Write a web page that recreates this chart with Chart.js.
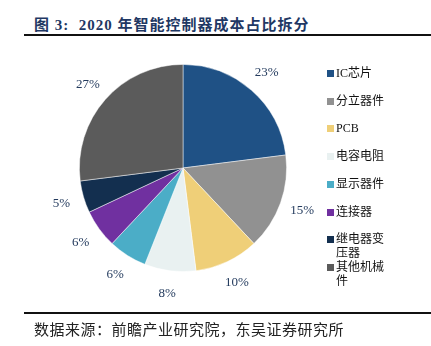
<!DOCTYPE html>
<html>
<head>
<meta charset="utf-8">
<script src="https://cdn.jsdelivr.net/npm/chart.js@4"></script>
<style>
  body { margin: 0; width: 431px; height: 346px; background: #fff; position: relative; overflow: hidden;
         font-family: "Liberation Serif", "Noto Sans CJK SC", serif; }
  #title { position: absolute; left: 34px; top: 13px; font-size: 15px; font-weight: bold; color: #1f3864; white-space: nowrap; letter-spacing: 1px; }
  #topline { position: absolute; left: 24px; top: 34px; width: 407px; height: 2px; background: #111; }
  #bottomline { position: absolute; left: 24px; top: 312px; width: 407px; height: 2px; background: #111; }
  #source { position: absolute; left: 34px; top: 318px; font-size: 15px; color: #222; white-space: nowrap; letter-spacing: 0.5px; }
  #chartBox { position: absolute; left: 33px; top: 18px; width: 300px; height: 300px; }
  .leg { position: absolute; left: 327px; width: 70px; font-size: 12px; line-height: 14px; color: #111; }
  .leg span.sw { position: absolute; left: 0; top: 4px; width: 7px; height: 7px; }
  .leg span.tx { display: block; margin-left: 9px; width: 56px; word-break: break-all; }
</style>
</head>
<body>
<div id="title">图 3:&nbsp; 2020 年智能控制器成本占比拆分</div>
<div id="topline"></div>
<div id="chartBox"><canvas id="pieChart"></canvas></div>
<div id="legend"></div>
<div id="bottomline"></div>
<div id="source">数据来源：前瞻产业研究院，东吴证券研究所</div>

<script>
// Cost share of smart controllers, 2020 (%)
const categories = ['IC芯片', '分立器件', 'PCB', '电容电阻', '显示器件', '连接器', '继电器变压器', '其他机械件'];
const shares = [23, 15, 10, 8, 6, 6, 5, 27];
const colors = ['#1f5185', '#919191', '#efcf78', '#e9f1f1', '#4badc7', '#7030a0', '#132f4f', '#5b5b5b'];

// Draw percentage labels just outside each slice
const outsideLabels = {
    id: 'outsideLabels',
    afterDatasetsDraw(chart) {
        const ctx = chart.ctx;
        const meta = chart.getDatasetMeta(0);
        ctx.save();
        ctx.font = '13px "Liberation Serif", serif';
        ctx.fillStyle = '#243b5e';
        ctx.textAlign = 'center';
        ctx.textBaseline = 'middle';
        meta.data.forEach(function(arc, i) {
            const p = arc.getProps(['x', 'y', 'startAngle', 'endAngle', 'outerRadius'], true);
            const mid = (p.startAngle + p.endAngle) / 2;
            const r = p.outerRadius + 23;
            ctx.fillText(shares[i] + '%', p.x + Math.cos(mid) * r, p.y + Math.sin(mid) * r);
        });
        ctx.restore();
    }
};

const ctx = document.getElementById('pieChart').getContext('2d');
new Chart(ctx, {
    type: 'pie',
    data: {
        labels: categories,
        datasets: [{
            data: shares,
            backgroundColor: colors,
            borderColor: 'rgba(255,255,255,0.6)',
            borderWidth: 0.8
        }]
    },
    options: {
        responsive: true,
        maintainAspectRatio: false,
        animation: false,
        layout: { padding: 46 },
        plugins: {
            legend: { display: false },
            tooltip: { enabled: false }
        }
    },
    plugins: [outsideLabels]
});

// Legend on the right
const legend = document.getElementById('legend');
categories.forEach(function(name, i) {
    const item = document.createElement('div');
    item.className = 'leg';
    item.style.top = (66 + i * 27.7) + 'px';
    item.innerHTML = '<span class="sw" style="background:' + colors[i] + '"></span><span class="tx">' + name + '</span>';
    legend.appendChild(item);
});
</script>
</body>
</html>
